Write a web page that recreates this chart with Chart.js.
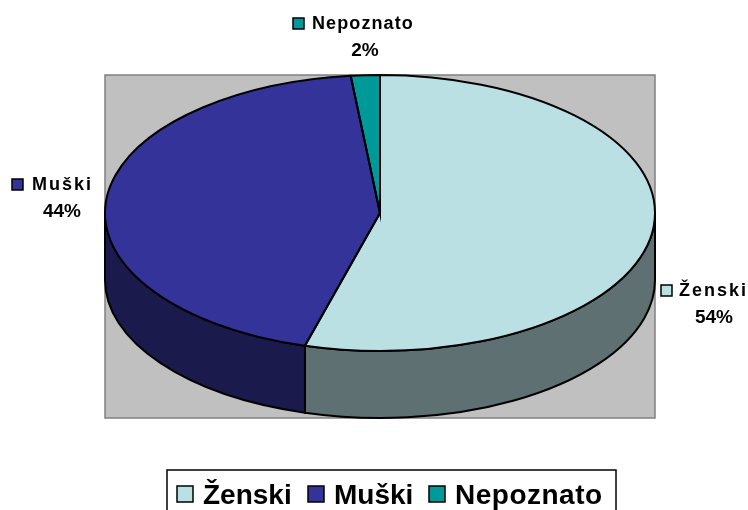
<!DOCTYPE html>
<html>
<head>
<meta charset="utf-8">
<title>Spol</title>
<style>
    html, body { margin: 0; padding: 0; background: #fff; overflow: hidden; }
    canvas { display: block; }
</style>
<script src="https://cdn.jsdelivr.net/npm/chart.js@4/dist/chart.umd.js"></script>
</head>
<body>
<canvas id="pieChart" width="748" height="510"></canvas>
<script>
const categories = ["Ženski", "Muški", "Nepoznato"];
const values = [54.4, 43.9, 1.7];
const colors = ["#BBE0E3", "#333399", "#009999"];
const sideColors = ["#5E7072", "#1A1A4D", "#004D4D"];

// layout of the flattened pie, in page pixels
const radiusX = 275;
const radiusY = 138;
const depth = 67;
const plotBox = { left: 105, top: 75, right: 655, bottom: 418 };
const legendBox = { left: 167, top: 470, right: 616, bottom: 530 };
const legendSpots = [
    { swatch: 177, text: 203, spacing: "0px" },
    { swatch: 308, text: 334, spacing: "0px" },
    { swatch: 429, text: 455, spacing: "0.5px" }
];
const labelSpots = [
    { swatch: 661, text: 679, y: 296, pctX: 714, pctY: 323, spacing: "2px" },
    { swatch: 12, text: 32, y: 190, pctX: 62, pctY: 217, spacing: "2px" },
    { swatch: 293, text: 312, y: 29, pctX: 365, pctY: 56, spacing: "1.1px" }
];

function arcsOf(chart) {
    return chart.getDatasetMeta(0).data.map(arc => arc.getProps(["x", "y", "startAngle", "endAngle"], true));
}

function drawSwatch(ctx, x, y, size, color) {
    ctx.fillStyle = color;
    ctx.strokeStyle = "#000";
    ctx.lineWidth = 1.5;
    ctx.fillRect(x, y, size, size);
    ctx.strokeRect(x, y, size, size);
}

const flatPie = {
    id: "flatPie",
    beforeDraw(chart) {
        const ctx = chart.ctx;
        ctx.fillStyle = "#C0C0C0";
        ctx.strokeStyle = "#808080";
        ctx.lineWidth = 1.5;
        ctx.fillRect(plotBox.left, plotBox.top, plotBox.right - plotBox.left, plotBox.bottom - plotBox.top);
        ctx.strokeRect(plotBox.left, plotBox.top, plotBox.right - plotBox.left, plotBox.bottom - plotBox.top);
    },
    beforeDatasetsDraw(chart) {
        // the wall under the front half of the pie
        const ctx = chart.ctx;
        arcsOf(chart).forEach((arc, i) => {
            const from = Math.max(arc.startAngle, 0);
            const to = Math.min(arc.endAngle, Math.PI);
            if (from >= to) return;
            ctx.beginPath();
            ctx.ellipse(arc.x, arc.y, radiusX, radiusY, 0, from, to);
            ctx.ellipse(arc.x, arc.y + depth, radiusX, radiusY, 0, to, from, true);
            ctx.closePath();
            ctx.fillStyle = sideColors[i];
            ctx.fill();
            ctx.strokeStyle = "#000";
            ctx.lineWidth = 2;
            ctx.stroke();
        });
    },
    beforeDatasetDraw(chart) {
        const ctx = chart.ctx;
        const arc = arcsOf(chart)[0];
        ctx.save();
        ctx.translate(arc.x, arc.y);
        ctx.scale(1, radiusY / radiusX);
        ctx.translate(-arc.x, -arc.y);
    },
    afterDatasetDraw(chart) {
        chart.ctx.restore();
    },
    afterDatasetsDraw(chart) {
        const ctx = chart.ctx;
        ctx.strokeStyle = "#000";
        ctx.lineWidth = 2;
        arcsOf(chart).forEach(arc => {
            ctx.beginPath();
            ctx.moveTo(arc.x, arc.y);
            ctx.ellipse(arc.x, arc.y, radiusX, radiusY, 0, arc.startAngle, arc.endAngle);
            ctx.closePath();
            ctx.stroke();
        });
    },
    afterDraw(chart) {
        const ctx = chart.ctx;
        ctx.textBaseline = "alphabetic";

        // labels next to the slices
        categories.forEach((name, i) => {
            const spot = labelSpots[i];
            drawSwatch(ctx, spot.swatch, spot.y - 11, 11, colors[i]);
            ctx.fillStyle = "#000";
            ctx.font = "bold 18px 'Liberation Sans'";
            ctx.letterSpacing = spot.spacing;
            ctx.textAlign = "left";
            ctx.fillText(name, spot.text, spot.y);
            ctx.font = "bold 19px 'Liberation Sans'";
            ctx.letterSpacing = "0px";
            ctx.textAlign = "center";
            ctx.fillText(Math.round(values[i]) + "%", spot.pctX, spot.pctY);
        });

        // legend box, runs off the bottom of the page
        ctx.fillStyle = "#fff";
        ctx.strokeStyle = "#000";
        ctx.lineWidth = 1.5;
        ctx.fillRect(legendBox.left, legendBox.top, legendBox.right - legendBox.left, legendBox.bottom - legendBox.top);
        ctx.strokeRect(legendBox.left, legendBox.top, legendBox.right - legendBox.left, legendBox.bottom - legendBox.top);
        ctx.textAlign = "left";
        categories.forEach((name, i) => {
            drawSwatch(ctx, legendSpots[i].swatch, 486, 16, colors[i]);
            ctx.fillStyle = "#000";
            ctx.font = "bold 28px 'Liberation Sans'";
            ctx.letterSpacing = legendSpots[i].spacing;
            ctx.fillText(name, legendSpots[i].text, 504);
        });
        ctx.letterSpacing = "0px";
    }
};

new Chart(document.getElementById("pieChart"), {
    type: "pie",
    data: {
        labels: categories,
        datasets: [{
            data: values,
            backgroundColor: colors,
            borderWidth: 0,
            clip: false
        }]
    },
    options: {
        responsive: false,
        animation: false,
        radius: radiusX,
        layout: { padding: { left: 12, top: 0, right: 0, bottom: 84 } },
        plugins: {
            legend: { display: false },
            tooltip: { enabled: false }
        }
    },
    plugins: [flatPie]
});
</script>
</body>
</html>
